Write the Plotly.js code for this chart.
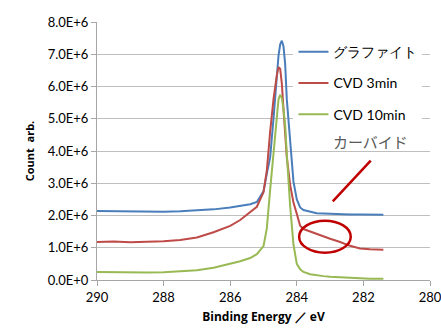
<!DOCTYPE html>
<html><head><meta charset="utf-8">
<script src="https://cdn.plot.ly/plotly-3.0.1.min.js"></script>
<style>html,body{margin:0;padding:0;background:#fff}#chart{width:441px;height:329px}</style>
</head><body><div id="chart"></div>
<script>
const energy = [290, 289.5, 289, 288.5, 288, 287.5, 287, 286.5, 286, 285.7, 285.4, 285.2, 285.0, 284.9, 284.8, 284.7, 284.6, 284.55, 284.5, 284.45, 284.4, 284.35, 284.3, 284.2, 284.1, 284.0, 283.9, 283.8, 283.6, 283.4, 283.2, 283.0, 282.7, 282.4, 282.1, 281.8, 281.4];
const graphite = [2.14e6, 2.13e6, 2.12e6, 2.12e6, 2.12e6, 2.13e6, 2.15e6, 2.19e6, 2.25e6, 2.29e6, 2.35e6, 2.42e6, 2.75e6, 3.3e6, 3.8e6, 5.0e6, 6.4e6, 6.95e6, 7.3e6, 7.42e6, 7.25e6, 6.7e6, 5.6e6, 4.2e6, 3.05e6, 2.5e6, 2.25e6, 2.17e6, 2.11e6, 2.07e6, 2.06e6, 2.05e6, 2.04e6, 2.03e6, 2.03e6, 2.02e6, 2.02e6];
const cvd3 = [1.18e6, 1.19e6, 1.17e6, 1.18e6, 1.2e6, 1.24e6, 1.32e6, 1.48e6, 1.68e6, 1.86e6, 2.1e6, 2.27e6, 2.72e6, 3.4e6, 4.6e6, 5.6e6, 6.35e6, 6.6e6, 6.55e6, 6.1e6, 5.3e6, 4.4e6, 3.8e6, 2.95e6, 2.4e6, 2.05e6, 1.68e6, 1.58e6, 1.5e6, 1.42e6, 1.36e6, 1.28e6, 1.18e6, 1.06e6, 0.98e6, 0.95e6, 0.94e6];
const cvd10 = [0.25e6, 0.24e6, 0.23e6, 0.23e6, 0.24e6, 0.26e6, 0.3e6, 0.38e6, 0.5e6, 0.58e6, 0.68e6, 0.8e6, 1.05e6, 1.6e6, 2.8e6, 4.0e6, 5.2e6, 5.6e6, 5.74e6, 5.65e6, 5.3e6, 4.8e6, 3.9e6, 2.3e6, 1.1e6, 0.5e6, 0.33e6, 0.25e6, 0.18e6, 0.14e6, 0.12e6, 0.1e6, 0.08e6, 0.06e6, 0.05e6, 0.04e6, 0.04e6];
const seriesNames = ['グラファイト', 'CVD 3min', 'CVD 10min'];
const yTickVals = [0, 1e6, 2e6, 3e6, 4e6, 5e6, 6e6, 7e6, 8e6];
const yTickText = ['0.0E+0', '1.0E+6', '2.0E+6', '3.0E+6', '4.0E+6', '5.0E+6', '6.0E+6', '7.0E+6', '8.0E+6'];
const xTickVals = [290, 288, 286, 284, 282, 280];
const xTickText = ['290', '288', '286', '284', '282', '280'];
const annotationText = 'カーバイド';

const colors = ['#4a7ebb', '#be4b48', '#98b954'];
const ys = [graphite, cvd3, cvd10];
const traces = ys.map((y, i) => ({
  x: energy, y: y, type: 'scatter', mode: 'lines', name: seriesNames[i],
  legendgroup: 'g' + i,
  line: {color: colors[i], width: 2}
}));

const font = 'Lato, "Noto Sans", sans-serif';
const boldFont = '"Open Sans", "Noto Sans", sans-serif';
const layout = {
  width: 441, height: 329,
  margin: {l: 97, r: 11, t: 22, b: 49},
  paper_bgcolor: '#fff', plot_bgcolor: '#fff',
  font: {family: font, size: 13, color: '#000'},
  showlegend: true,
  legend: {x: 0.59, y: 0.945, xanchor: 'left', yanchor: 'top', bgcolor: '#fff',
           font: {family: font, size: 14, color: '#000'}, tracegroupgap: 10, itemwidth: 30},
  xaxis: {range: [290, 280], tickvals: xTickVals, ticktext: xTickText,
          showgrid: false, zeroline: false, showline: true, linecolor: '#a6a6a6', linewidth: 1,
          ticks: 'outside', ticklen: 5, tickcolor: '#a6a6a6', ticklabeloverflow: 'allow',
          tickfont: {family: font, size: 13},
          title: {text: 'Binding Energy ／ eV', font: {family: boldFont, size: 12, color: '#000', weight: 700}, standoff: 9}},
  yaxis: {range: [0, 8e6], tickvals: yTickVals, ticktext: yTickText,
          showgrid: true, gridcolor: '#bfbfbf', gridwidth: 1, zeroline: false,
          showline: true, linecolor: '#a6a6a6', linewidth: 1,
          ticks: 'outside', ticklen: 5, tickcolor: '#a6a6a6',
          tickfont: {family: font, size: 13},
          title: {text: 'Count  arb.', font: {family: boldFont, size: 11, color: '#000', weight: 700}, standoff: 10}},
  annotations: [{
    xref: 'paper', yref: 'paper', x: 0.82, y: 0.535, xanchor: 'center', yanchor: 'middle',
    text: annotationText, showarrow: false,
    font: {family: '"Noto Sans CJK JP", sans-serif', size: 15, color: '#595959'}
  }],
  shapes: [
    {type: 'line', xref: 'paper', yref: 'paper', x0: 0.708, y0: 0.305, x1: 0.822, y1: 0.463,
     line: {color: '#c00000', width: 2.5}},
    {type: 'circle', xref: 'paper', yref: 'paper', x0: 0.607, y0: 0.106, x1: 0.762, y1: 0.23,
     line: {color: '#c00000', width: 2.5}}
  ]
};
Plotly.newPlot('chart', traces, layout, {displayModeBar: false, staticPlot: true});
</script></body></html>
